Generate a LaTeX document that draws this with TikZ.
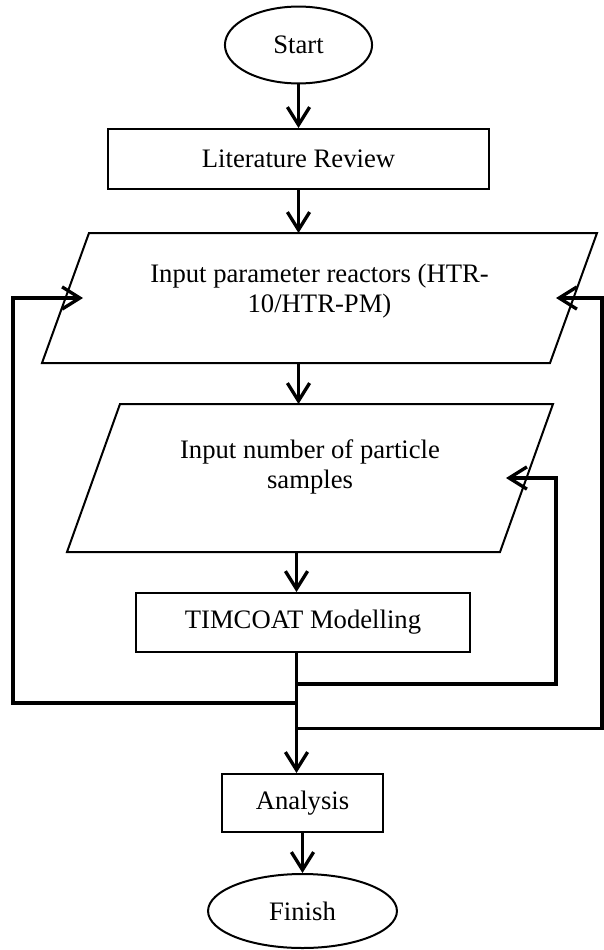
\documentclass[tikz,border=0pt]{standalone}
\usepackage{fontspec}
\setmainfont{Liberation Serif}
\usetikzlibrary{arrows.meta,shapes.geometric}

\begin{document}
\begin{tikzpicture}[x=0.45pt,y=-0.45pt,>={Straight Barb[length=8pt,width=10pt]},
  every node/.style={font=\fontsize{12}{13.5}\selectfont},
  term/.style={draw,ellipse,line width=0.9pt,inner sep=0pt},
  proc/.style={draw,rectangle,line width=0.9pt,inner sep=0pt},
  iobox/.style={draw,line width=0.9pt},
  conn/.style={line width=1.5pt}]
\useasboundingbox (0,0) rectangle (604,950);
\coordinate (spine) at (296.5,0);
\node[term,minimum width=66.2pt,minimum height=34.6pt] (start) at (298.5,45) {Start};
\node[proc,minimum width=171.5pt,minimum height=27pt] (lit) at (298.5,159) {Literature Review};
% input parallelograms
\draw[iobox] (89,233) coordinate (in1top) -- (597,233) coordinate (in1tr)
  -- (550,363) coordinate (in1br) -- (42,363) coordinate (in1bot) -- cycle;
\node[align=center] (in1) at (319.5,291) {Input parameter reactors (HTR-\\10/HTR-PM)};
\draw[iobox] (120,404) coordinate (in2top) -- (553,404) coordinate (in2tr)
  -- (500,552) coordinate (in2bot) -- (67,552) -- cycle;
\node[align=center] (in2) at (310,467) {Input number of particle\\samples};
\node[proc,minimum width=150.3pt,minimum height=26.5pt] (tim) at (303,622.5) {TIMCOAT Modelling};
\node[proc,minimum width=72.5pt,minimum height=26.1pt] (ana) at (302.5,803) {Analysis};
\node[term,minimum width=85pt,minimum height=33.3pt] (fin) at (302.5,911) {Finish};
\draw[conn,->] (start) -- (lit);
\draw[conn,->] (lit.south) -- (lit.south |- in1top);
\draw[conn,->] (lit.south |- in1bot) -- (lit.south |- in2top);
\draw[conn,->] (in2bot -| spine) -- (tim.north -| spine);
\draw[conn,->] (tim.south -| spine) -- (ana.north -| spine);
\draw[conn,->] (ana) -- (fin);
% feedback loops
\coordinate (b1) at (296.5,684);
\coordinate (r1) at (556,684);
\coordinate (in2in) at (506,478);
\coordinate (b2) at (296.5,703);
\coordinate (l1) at (13,703);
\coordinate (in1inl) at (83,298);
\coordinate (b3) at (296.5,728.5);
\coordinate (r2) at (602,728.5);
\coordinate (in1inr) at (556,298);
\draw[conn,->] (b1) -- (r1) |- (in2in);
\draw[conn,->] (b2) -- (l1) |- (in1inl);
\draw[conn,->] (b3) -- (r2) |- (in1inr);
\end{tikzpicture}
\end{document}
